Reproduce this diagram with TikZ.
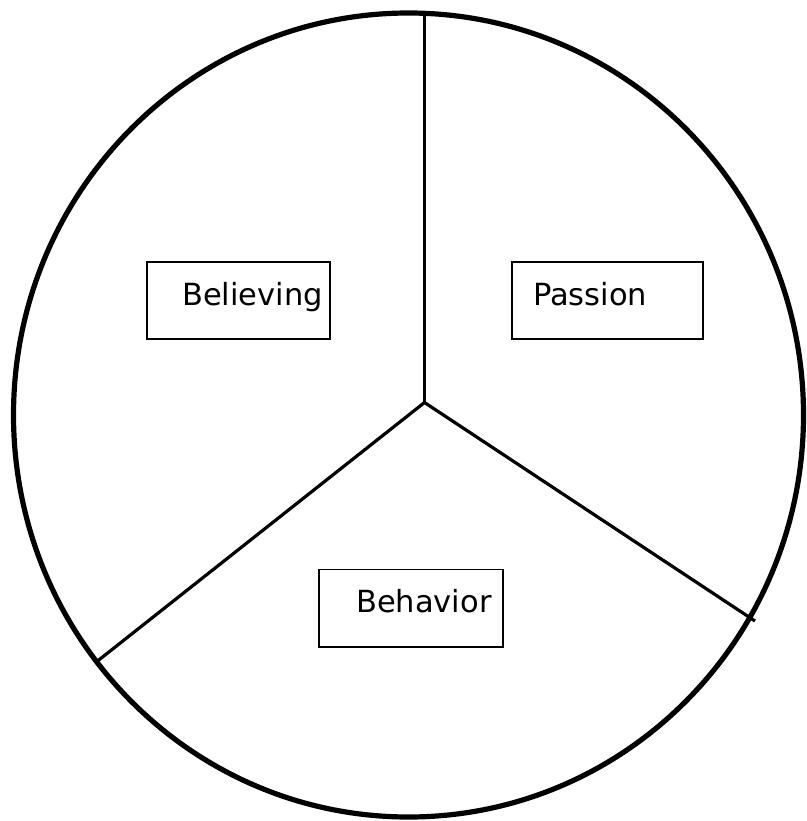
\documentclass[tikz,border=0pt]{standalone}
\usepackage{fontspec}
\setmainfont{DejaVu Sans}
\begin{document}
\begin{tikzpicture}[x=1pt,y=-1pt,
  rim/.style={line width=5.2pt},
  spoke/.style={line width=3.2pt},
  labelbox/.style={draw,line width=1.5pt,inner sep=0pt},
  labeltext/.style={anchor=base west,inner sep=0pt,font=\fontsize{30.5}{36}\selectfont}]
\useasboundingbox (0,0) rectangle (806,821);
\fill[white] (0,0) rectangle (806,821);
% rim
\draw[rim] (408.5,415) ellipse [x radius=395, y radius=402];
% spokes
\coordinate (hub) at (424.5,402.5);
\coordinate (topend) at (424.5,14);
\coordinate (leftend) at (95,663);
\coordinate (rightend) at (755,621);
\draw[spoke] (hub) -- (topend);
\draw[spoke] (hub) -- (leftend);
\draw[spoke] (hub) -- (rightend);
% boxes
\node[labelbox,minimum width=183pt,minimum height=77pt] (b1) at (238.5,300.5) {};
\node[labelbox,minimum width=191pt,minimum height=77pt] (b2) at (607.5,300.5) {};
\node[labelbox,minimum width=184pt,minimum height=77.5pt] (b3) at (411,608) {};
\node[labeltext] (t1) at (182,305) {Believing};
\node[labeltext] (t2) at (533,305) {Passion};
\node[labeltext] (t3) at (356,612.5) {Behavior};
\end{tikzpicture}
\end{document}
